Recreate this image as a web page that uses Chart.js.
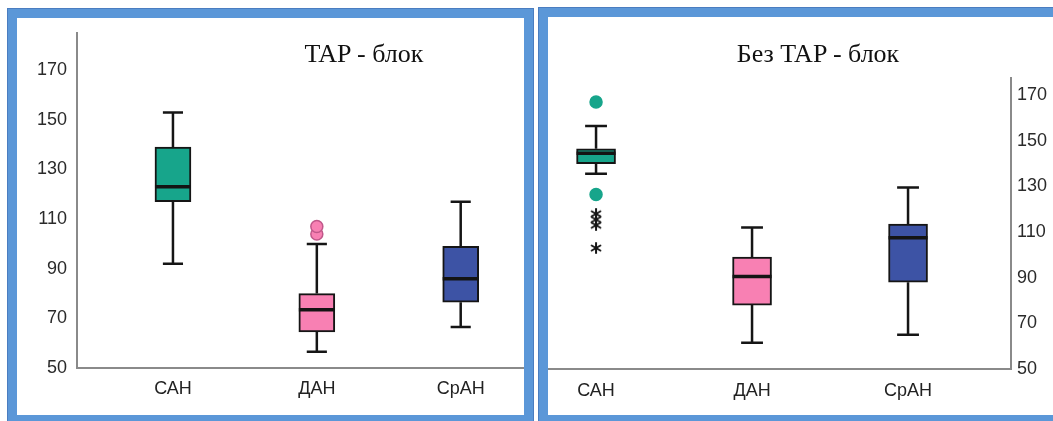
<!DOCTYPE html>
<html>
<head>
<meta charset="utf-8">
<script src="https://cdn.jsdelivr.net/npm/chart.js@4/dist/chart.umd.min.js"></script>
<style>
body{margin:0;background:#fff;width:1053px;height:421px;overflow:hidden;position:relative;font-family:"Liberation Sans",Arial,sans-serif}
.panel{position:absolute;box-sizing:border-box;border:9px solid #5b97d8;border-bottom-width:6px;background:#fff;outline:1px solid #4a7dc0}
#p1{left:8px;top:9px;width:525px;height:412px}
#p2{left:539px;top:8px;width:560px;height:413px;border-right:none}
canvas{position:absolute;left:0;top:0}
.ttl{position:absolute;top:41px;font-family:"Liberation Serif","Times New Roman",serif;font-size:26px;line-height:26px;color:#111;white-space:nowrap;transform:translateX(-50%)}
</style>
</head>
<body>
<div class="panel" id="p1"><canvas id="c1" width="507" height="397"></canvas></div>
<div class="panel" id="p2"><canvas id="c2" width="505" height="398"></canvas></div>
<div class="ttl" style="left:364px">TAP - блок</div>
<div class="ttl" style="left:818px">Без TAP - блок</div>
<script>
// data
var categories = ['САН', 'ДАН', 'СрАН'];
var yTicks = [50, 70, 90, 110, 130, 150, 170];
var boxColors = ['#17a58b', '#f880b3', '#3d53a5'];

// TAP - блок
var tapLow = [92, 56.5, 66.5];
var tapQ1 = [117, 64.5, 76.5];
var tapMedian = [123, 73.5, 86];
var tapQ3 = [139, 80, 99];
var tapHigh = [153, 100, 117];
var tapOutliers = [[], [104, 107], []];
var tapExtremes = [[], [], []];

// Без TAP - блок
var noLow = [135.5, 61.5, 65];
var noQ1 = [140, 78, 88];
var noMedian = [144.5, 90.5, 107.5];
var noQ3 = [146.5, 99, 113.5];
var noHigh = [156.5, 112, 129.5];
var noOutliers = [[167, 126.5], [], []];
var noExtremes = [[118, 115.5, 113, 103], [], []];

var outlineColors = ['#17a58b', '#c0588a', '#3d53a5'];

// asterisk marker for extreme values
var starImg = document.createElement('canvas');
starImg.width = 12; starImg.height = 12;
(function() {
	var g = starImg.getContext('2d');
	g.strokeStyle = '#151515';
	g.lineWidth = 2;
	g.lineCap = 'round';
	for (var k = 0; k < 3; k++) {
		var a = Math.PI / 2 + k * Math.PI / 3;
		g.beginPath();
		g.moveTo(6 + Math.cos(a) * 5, 6 - Math.sin(a) * 5);
		g.lineTo(6 - Math.cos(a) * 5, 6 + Math.sin(a) * 5);
		g.stroke();
	}
})();

function boxChart(id, d) {
	var half = 0.125, cap = 0.07;
	var whisk = [], med = [], outs = [], outBg = [], outBd = [], ext = [];
	categories.forEach(function(c, i) {
		var x = i + 1;
		whisk.push({x: x - cap, y: d.low[i]}, {x: x + cap, y: d.low[i]}, {x: x, y: null});
		whisk.push({x: x, y: d.low[i]}, {x: x, y: d.q1[i]}, {x: x, y: null});
		whisk.push({x: x, y: d.q3[i]}, {x: x, y: d.high[i]}, {x: x, y: null});
		whisk.push({x: x - cap, y: d.high[i]}, {x: x + cap, y: d.high[i]}, {x: x, y: null});
		med.push({x: x - half, y: d.median[i]}, {x: x + half, y: d.median[i]}, {x: x, y: null});
		d.outliers[i].forEach(function(v) {
			outs.push({x: x, y: v});
			outBg.push(boxColors[i]);
			outBd.push(outlineColors[i]);
		});
		d.extremes[i].forEach(function(v) { ext.push({x: x, y: v}); });
	});

	var yScale = {
		type: 'linear', position: d.yPos, min: 50, max: d.yMax,
		afterBuildTicks: function(s) { s.ticks = yTicks.map(function(v) { return {value: v}; }); },
		afterFit: function(s) { s.width = d.yWidth; s.paddingTop = 0; s.paddingBottom = 0; },
		grid: {display: false, drawTicks: false},
		border: {display: true, color: '#8a8a8a', width: 2},
		ticks: {color: '#2a2a2a', padding: d.yPad, font: {family: 'Liberation Sans', size: 18}}
	};
	var xScale = {
		type: 'linear', position: 'bottom', min: d.xMin, max: d.xMax, offset: false,
		afterBuildTicks: function(s) { s.ticks = categories.map(function(c, i) { return {value: i + 1}; }); },
		afterFit: function(s) { s.height = d.xHeight; s.paddingLeft = 0; s.paddingRight = 0; },
		grid: {display: false, drawTicks: false, offset: false},
		border: {display: true, color: '#8a8a8a', width: 2},
		ticks: {
			color: '#222', padding: d.xPad, autoSkip: false, maxRotation: 0,
			font: {family: 'Liberation Sans', size: 18},
			callback: function(v) { return categories[v - 1]; }
		}
	};

	return new Chart(document.getElementById(id), {
		type: 'bar',
		data: {
			datasets: [{
				type: 'bar',
				data: categories.map(function(c, i) { return {x: i + 1, y: [d.q1[i], d.q3[i]]}; }),
				backgroundColor: boxColors,
				borderColor: '#151515',
				borderWidth: 2,
				borderSkipped: false,
				barThickness: d.barPx,
				order: 4
			}, {
				type: 'line',
				data: whisk,
				borderColor: '#151515',
				borderWidth: 2.5,
				pointRadius: 0,
				spanGaps: false,
				order: 3
			}, {
				type: 'line',
				data: med,
				borderColor: '#141414',
				borderWidth: 3.5,
				pointRadius: 0,
				spanGaps: false,
				order: 2
			}, {
				type: 'line',
				data: outs,
				showLine: false,
				pointRadius: 6,
				pointBackgroundColor: outBg,
				pointBorderColor: outBd,
				pointBorderWidth: 1.5,
				order: 1
			}, {
				type: 'line',
				data: ext,
				showLine: false,
				pointStyle: starImg,
				pointRadius: 6,
				order: 0
			}]
		},
		options: {
			responsive: false,
			animation: false,
			events: [],
			layout: {autoPadding: false, padding: {top: d.padTop, left: 0, right: 0, bottom: 0}},
			plugins: {legend: {display: false}, tooltip: {enabled: false}},
			scales: {x: xScale, y: yScale}
		}
	});
}

boxChart('c1', {
	low: tapLow, q1: tapQ1, median: tapMedian, q3: tapQ3, high: tapHigh,
	outliers: tapOutliers, extremes: tapExtremes,
	yPos: 'left', yMax: 185, yWidth: 60, yPad: 10,
	xMin: 0.333, xMax: 3.44, xHeight: 47, xPad: 10,
	padTop: 15, barPx: 36
});
boxChart('c2', {
	low: noLow, q1: noQ1, median: noMedian, q3: noQ3, high: noHigh,
	outliers: noOutliers, extremes: noExtremes,
	yPos: 'right', yMax: 177.5, yWidth: 42, yPad: 6,
	xMin: 0.692, xMax: 3.66, xHeight: 46, xPad: 11,
	padTop: 61, barPx: 39
});
</script>
</body>
</html>
